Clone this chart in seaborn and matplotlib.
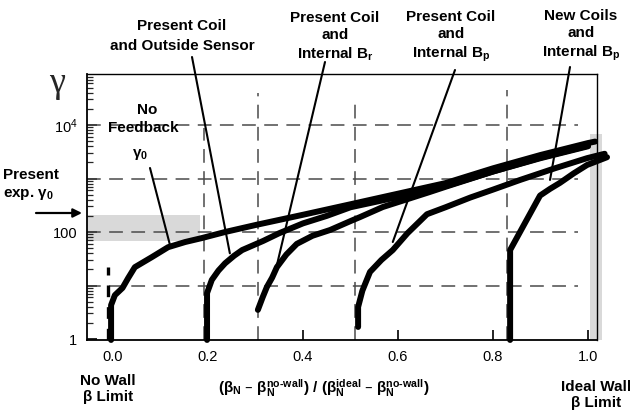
import matplotlib
matplotlib.use("Agg")
import matplotlib.pyplot as plt
import numpy as np
import pandas as pd
import seaborn as sns

# Growth rate gamma versus normalized beta for each feedback configuration
no_feedback_x = [-0.004, -0.004, 0.004, 0.02, 0.032, 0.046, 0.082, 0.116, 0.152, 0.187,
                 0.236, 0.30, 0.40, 0.50, 0.60, 0.70, 0.80, 0.90, 1.0, 1.015]
no_feedback_y = [0.96, 4.3, 6.6, 9.0, 13.8, 22, 34, 52, 65, 77,
                 100, 135, 210, 330, 520, 820, 1550, 2750, 4600, 4900]

outside_sensor_x = [0.198, 0.198, 0.208, 0.222, 0.236, 0.255, 0.272, 0.316, 0.35, 0.40,
                    0.45, 0.50, 0.60, 0.70, 0.80, 0.90, 1.0]
outside_sensor_y = [0.96, 7.2, 12.7, 19, 26, 36, 46, 68, 95, 145,
                    200, 290, 450, 720, 1350, 2400, 4000]

internal_br_x = [0.305, 0.315, 0.324, 0.335, 0.345, 0.365, 0.387, 0.42, 0.457, 0.50,
                 0.52, 0.568, 0.667, 0.70, 0.80, 0.90, 1.0]
internal_br_y = [3.5, 6.0, 9.4, 14, 22, 38, 60, 85, 109, 160,
                 190, 293, 560, 700, 1350, 2450, 4100]

internal_bp_x = [0.516, 0.516, 0.525, 0.541, 0.565, 0.589, 0.62, 0.661, 0.70, 0.752,
                 0.80, 0.857, 0.93, 0.998, 1.035]
internal_bp_y = [1.68, 3.96, 8.0, 17.9, 30, 46, 95, 215, 290, 440,
                 620, 940, 1550, 2400, 2900]

new_coils_x = [0.836, 0.836, 0.899, 0.92, 0.941, 0.97, 0.998, 1.04]
new_coils_y = [0.96, 46, 480, 640, 830, 1250, 1790, 2500]

curve_names = ["No Feedback", "Outside Sensor", "Internal Br", "Internal Bp", "New Coils"]

# Reference levels
grid_levels = [10, 100, 1000, 10000]
onset_x = [0.192, 0.305, 0.509, 0.829]
onset_top = [8700, 40000, 29000, 45000]
present_gamma_band = (68, 210)
ideal_wall_band_top = 6800

x_ticks = [0.0, 0.2, 0.4, 0.6, 0.8, 1.0]
x_tick_labels = ["0.0", "0.2", "0.4", "0.6", "0.8", "1.0"]
y_ticks = [1, 10, 100, 1000, 10000]
y_tick_labels = ["1", "", "100", "", "$10^4$"]

frames = []
for name, xs, ys in zip(curve_names,
                        [no_feedback_x, outside_sensor_x, internal_br_x, internal_bp_x, new_coils_x],
                        [no_feedback_y, outside_sensor_y, internal_br_y, internal_bp_y, new_coils_y]):
    frames.append(pd.DataFrame({"x": xs, "y": ys, "curve": name, "order": range(len(xs))}))
df = pd.concat(frames, ignore_index=True)

sns.set_style("white")
plt.rcParams["font.family"] = ["Liberation Sans", "DejaVu Sans"]
plt.rcParams["mathtext.default"] = "regular"

W, H = 630, 415
fig = plt.figure(figsize=(W / 100, H / 100), dpi=100)
ax = fig.add_axes([87 / W, 1 - 340 / H, 510 / W, 266 / H])
ax.set_yscale("log")
xlim = (-0.0547, 1.0189)
ylim = (0.958, 89800)


def fpx(px, py):
    return (px / W, 1 - py / H)


# shaded bands
ax.fill_between([xlim[0], 0.183], *present_gamma_band, color="#d9d9d9", lw=0, zorder=0)
ax.fill_between([1.004, 1.029], ylim[0], ideal_wall_band_top, color="#d9d9d9", lw=0,
                zorder=0, clip_on=False)

# dashed reference grid
dash_kw = dict(color="#4a4a4a", lw=1.1, linestyles=(0, (9, 5.5)), zorder=1)
ax.hlines(grid_levels, xlim[0], 0.978, **dash_kw)
for xv, top in zip(onset_x, onset_top):
    ax.vlines(xv, ylim[0], top, **dash_kw)
ax.vlines(-0.0105, ylim[0], 22, color="black", lw=2.4, linestyles=(0, (3.5, 3)), zorder=1)

sns.lineplot(data=df, x="x", y="y", units="curve", estimator=None, sort=False,
             color="black", lw=4.3, ax=ax, legend=False, zorder=3)
for ln in ax.lines:
    ln.set_clip_on(False)
    ln.set_solid_capstyle("round")

ax.set_xlim(*xlim)
ax.set_ylim(*ylim)
ax.set_xlabel("")
ax.set_ylabel("")

ax.set_xticks(x_ticks)
ax.set_xticklabels(x_tick_labels, fontsize=10.5)
ax.set_yticks(y_ticks)
ax.set_yticklabels(y_tick_labels, fontsize=10.5)
ax.yaxis.set_minor_locator(matplotlib.ticker.LogLocator(base=10, subs=np.arange(2, 10)))
ax.yaxis.set_minor_formatter(matplotlib.ticker.NullFormatter())
ax.tick_params(axis="both", which="major", direction="in", length=7, width=1.2,
               colors="black", pad=7)
ax.tick_params(axis="y", which="minor", direction="in", length=4, width=0.9, left=True)
ax.tick_params(axis="x", which="major", bottom=True)
ax.tick_params(axis="y", which="major", left=True)
for side, sp in ax.spines.items():
    sp.set_color("black")
    sp.set_linewidth(1.3 if side in ("left", "bottom") else 1.0)
    sp.set_zorder(4)

# pointer lines from labels to curves
pointers = [((150, 168), (0.12, 57)),
            ((192, 57), (0.246, 40)),
            ((325, 62), (0.345, 24)),
            ((455, 70), (0.589, 65)),
            ((570, 67), (0.92, 940))]
for start, end in pointers:
    ax.annotate("", xy=end, xycoords="data", xytext=fpx(*start), textcoords="figure fraction",
                arrowprops=dict(arrowstyle="-", lw=1.5, color="black",
                                shrinkA=0, shrinkB=0), annotation_clip=False)

bold = dict(fontsize=11, fontweight="bold", ha="center", va="center", color="black")
fig.text(*fpx(182, 36), "Present Coil\nand Outside Sensor", linespacing=1.5, **bold)
fig.text(*fpx(335, 37), "Present Coil\nand\nInternal B$_r$", linespacing=1.3, **bold)
fig.text(*fpx(451, 37), "Present Coil\nand\nInternal B$_p$", linespacing=1.3, **bold)
fig.text(*fpx(581, 36), "New Coils\nand\nInternal B$_p$", linespacing=1.3, **bold)
fig.text(*fpx(147, 110), "No", **bold)
fig.text(*fpx(143, 128), "Feedback", **bold)
fig.text(*fpx(140, 154), "$\\gamma_0$", **bold)
fig.text(*fpx(3, 185), "Present\nexp. $\\gamma_0$", linespacing=1.3,
         **{**bold, "ha": "left"})
fig.text(*fpx(108, 389), "No Wall\n\u03b2 Limit", linespacing=1.1, **bold)
fig.text(*fpx(596, 395), "Ideal Wall\n\u03b2 Limit", linespacing=1.1, **bold)
fig.text(*fpx(324, 388),
         "($\\beta_N$ \u2013 $\\beta_N^{no\u2010wall}$) / ($\\beta_N^{ideal}$ \u2013 $\\beta_N^{no\u2010wall}$)",
         **bold)
fig.text(*fpx(57, 84), "\u03b3", fontsize=26, family="Liberation Serif",
         ha="center", va="center")

ax.annotate("", xy=fpx(82, 213), xycoords="figure fraction",
            xytext=fpx(36, 213), textcoords="figure fraction",
            arrowprops=dict(arrowstyle="-|>", lw=1.6, color="black",
                            mutation_scale=13, shrinkA=0, shrinkB=0),
            annotation_clip=False)

fig.savefig("out.png", dpi=100)
